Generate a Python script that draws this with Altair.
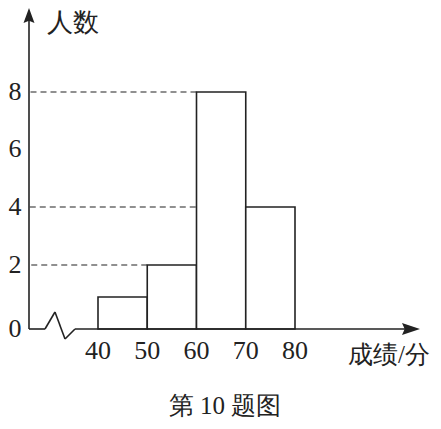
import altair as alt
import pandas as pd

# ---- data ----
bin_start = [40, 50, 60, 70]
bin_end = [50, 60, 70, 80]
counts = [1, 2, 8, 4]
x_ticks = [40, 50, 60, 70, 80]
y_ticks = [0, 2, 4, 6, 8]
y_title = "人数"
x_title = "成绩/分"
caption = "第 10 题图"

bars = pd.DataFrame({"start": bin_start, "end": bin_end, "count": counts})
xt = pd.DataFrame({"v": x_ticks})
yt = pd.DataFrame({"v": y_ticks})
one = pd.DataFrame({"a": [0]})

INK = "#222222"
FONT = "Liberation Serif"
FS = 26

xs = alt.Scale(domain=[40, 80], range=[90, 287], nice=False, zero=False)
ys = alt.Scale(domain=[0, 2, 4, 6, 8], range=[321, 257, 199, 141, 84], nice=False, zero=False)

guides = alt.Chart(bars).transform_filter("datum.count >= 2").mark_rule(
    color=INK, strokeWidth=1.2, strokeDash=[6, 4]
).encode(
    x=alt.X("start:Q", scale=xs, axis=None),
    x2=alt.value(21),
    y=alt.Y("count:Q", scale=ys, axis=None),
)

rects = alt.Chart(bars).mark_rect(fill="white", stroke=INK, strokeWidth=1.6).encode(
    x=alt.X("start:Q", scale=xs, axis=None),
    x2="end:Q",
    y=alt.Y("count:Q", scale=ys, axis=None),
    y2=alt.datum(0),
)

def seg(x1, y1, x2, y2):
    return alt.Chart(one).mark_rule(color=INK, strokeWidth=1.6).encode(
        x=alt.value(x1), y=alt.value(y1), x2=alt.value(x2), y2=alt.value(y2)
    )

axis_parts = [
    seg(21, 10, 21, 321),      # y axis
    seg(21, 321, 37, 321),     # x axis start
    seg(37, 321, 47, 304),     # zigzag break
    seg(47, 304, 57, 331),
    seg(57, 331, 67, 321),
    seg(67, 321, 405, 321),    # x axis rest
]

arrow_up = alt.Chart(one).mark_point(
    shape="M0,-1L0.73,1L0,0.7L-0.73,1Z", filled=True, size=225, color=INK, opacity=1
).encode(x=alt.value(21), y=alt.value(7.5))

arrow_right = alt.Chart(one).mark_point(
    shape="M1,0L-1,0.67L-0.7,0L-1,-0.67Z", filled=True, size=324, color=INK, opacity=1
).encode(x=alt.value(403), y=alt.value(321))

xlabels = alt.Chart(xt).mark_text(
    font=FONT, fontSize=FS, color=INK, align="center", baseline="middle"
).encode(
    x=alt.X("v:Q", scale=xs, axis=None),
    y=alt.value(343),
    text="v:Q",
)

ylabels = alt.Chart(yt).mark_text(
    font=FONT, fontSize=FS, color=INK, align="center", baseline="middle"
).encode(
    x=alt.value(7),
    y=alt.Y("v:Q", scale=ys, axis=None),
    text="v:Q",
)

def label(txt, x, y, size):
    return alt.Chart(one).mark_text(
        text=txt, font=FONT, fontSize=size, color=INK, align="center", baseline="middle"
    ).encode(x=alt.value(x), y=alt.value(y))

titles = [
    label(y_title, 65, 15, 26),
    label(x_title, 381, 347, 25),
    label(caption, 217, 398, 25),
]

chart = alt.layer(
    guides, rects, *axis_parts, arrow_up, arrow_right, xlabels, ylabels, *titles
).properties(
    width=425, height=413, padding=0,
    autosize=alt.AutoSizeParams(type="none"),
    background="white",
).configure_view(stroke=None)

chart.save("out.html", embed_options={"renderer": "svg", "actions": False})
